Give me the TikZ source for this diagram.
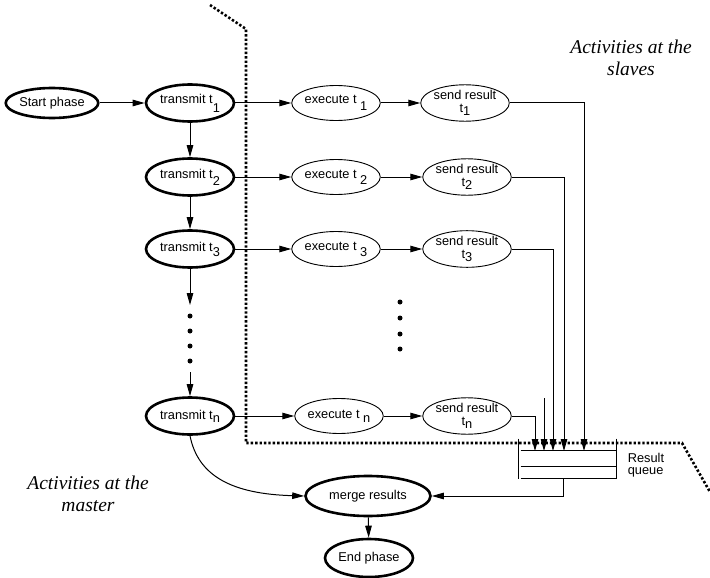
\documentclass[tikz,border=0pt]{standalone}
\usepackage{fontspec}
\setmainfont{Liberation Serif}
\setsansfont{Liberation Sans}
\usetikzlibrary{shapes.geometric,arrows.meta}
\newcommand{\low}[2][6pt]{\raisebox{-#1}{#2}}

\begin{document}
\begin{tikzpicture}[x=1pt,y=-1pt,->,>={Triangle[length=12pt,width=6.5pt]},line width=1pt,
  master node/.style={ellipse, draw, line width=2.6pt, minimum width=88pt, minimum height=37pt, inner sep=0pt},
  slave node/.style={ellipse, draw, line width=0.9pt, minimum width=87pt, minimum height=35pt, inner sep=0pt, align=center},
  boundary/.style={-, line width=2.6pt, dash pattern=on 2.4pt off 2pt},
  label text/.style={font=\rmfamily\itshape\fontsize{19.5}{22}\selectfont, align=center}]
\tikzstyle{every node}=[font=\sffamily\fontsize{12.8}{13.5}\selectfont]
\useasboundingbox (0,0) rectangle (710,578);

% master side
\node[master node, minimum width=89pt, minimum height=30pt] (start) at (52,103) {Start phase};
\node[master node] (t1) at (190,103) {transmit t\low[9pt]{1}};
\node[master node] (t2) at (190,177) {transmit t\low[7pt]{2}};
\node[master node] (t3) at (190,249) {transmit t\low[5pt]{3}};
\node[master node] (tn) at (190,416) {transmit t\low[3pt]{n}};
\node[master node, minimum width=125pt, minimum height=40pt] (merge) at (368,496) {merge results};
\node[master node, minimum height=38pt] (end) at (369,558) {End phase};

% slave side
\node[slave node] (e1) at (336,103) {execute t \low[7pt]{1}};
\node[slave node] (e2) at (336,177) {execute t \low[6pt]{2}};
\node[slave node] (e3) at (336,249) {execute t \low[6pt]{3}};
\node[slave node] (en) at (339,416) {execute t \low[4pt]{n}};
\node[slave node] (s1) at (465,103) {send result\\t\low[3pt]{1}};
\node[slave node] (s2) at (467,177) {send result\\t\low[3pt]{2}};
\node[slave node] (s3) at (467,249) {send result\\t\low[3pt]{3}};
\node[slave node] (sn) at (467,416) {send result\\t\low[3pt]{n}};

% result queue
\node[minimum width=95pt, minimum height=27pt, inner sep=0pt] (queue) at (568.5,464.5) {};
\node[anchor=west, align=left, font=\sffamily\fontsize{12.8}{12.5}\selectfont] (qlabel) at (624,465) {Result\\queue};
\draw[-] (queue.north west) -- (queue.north east);
\draw[-] ([yshift=-16pt]queue.north west) -- ([yshift=-16pt]queue.north east);
\draw[-] (queue.south west) -- (queue.south east);
\draw[-, line width=1.8pt] ([xshift=-2pt,yshift=12pt]queue.north west) -- ([xshift=-2pt]queue.south west);
\draw[-, line width=1.8pt] ([yshift=12pt]queue.north east) -- (queue.south east);

\coordinate (in1) at (584,451);
\coordinate (in2) at (564,451);
\coordinate (in3) at (553,451);
\coordinate (in4) at (544,451);
\coordinate (inn) at (535,451);
\coordinate (free) at (544,398);
\coordinate (qout) at (563,478);
\coordinate (gapA) at (190,305);
\coordinate (gapB) at (190,372);

\path (start) edge (t1)
      (t1) edge (t2)
      (t2) edge (t3)
      (t3) edge (gapA)
      (gapB) edge (tn)
      (t1) edge (e1) (e1) edge (s1)
      (t2) edge (e2) (e2) edge (s2)
      (t3) edge (e3) (e3) edge (s3)
      (tn) edge (en) (en) edge (sn)
      (merge) edge (end)
      (free) edge (in4);

\draw (s1.east) -| (in1);
\draw (s2.east) -| (in2);
\draw (s3.east) -| (in3);
\draw (sn.east) -| (inn);
\draw (qout) |- (merge.east);
\draw (tn.south) .. controls (198,476) and (232,494) .. (merge.west);

% dots
\foreach \y in {316,331,346,361}
  \fill[-] (190,\y) circle (2.5pt);
\foreach \y in {302,318,334,349}
  \fill[-] (400,\y) circle (2.5pt);

% boundary between master and slaves
\draw[boundary] (210,5) -- (246,29) -- (246,443) -- (682,443) -- (710,492);

\node[label text] (slavelabel) at (631,58) {Activities at the\\slaves};
\node[label text] (masterlabel) at (88,494) {Activities at the\\master};
\end{tikzpicture}
\end{document}
